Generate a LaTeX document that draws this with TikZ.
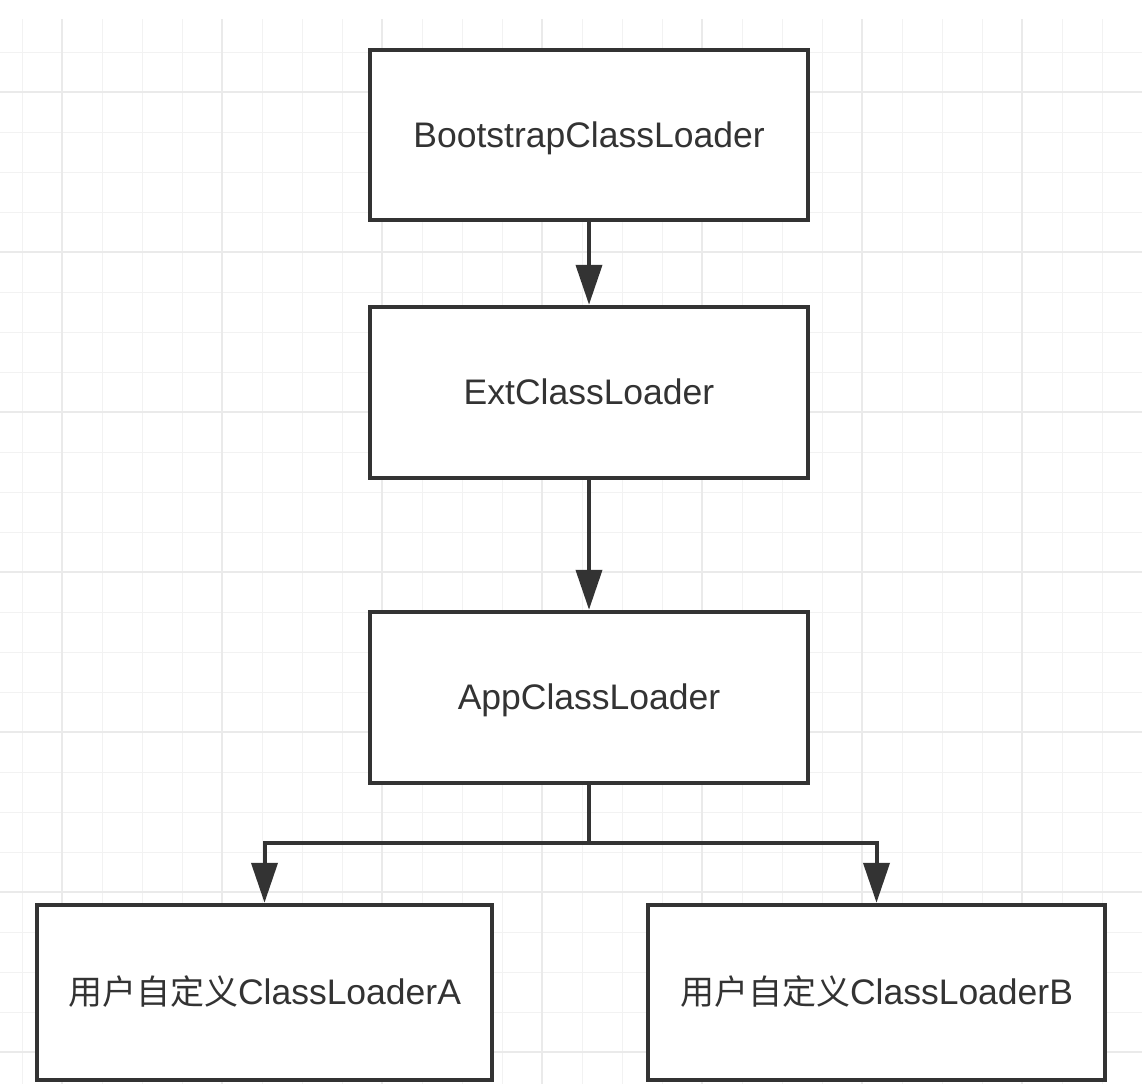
\documentclass[tikz,border=0pt]{standalone}
\usepackage{fontspec}
\setmainfont{Liberation Sans}
\newfontfamily\cjk{Noto Sans CJK SC}
\usetikzlibrary{arrows.meta}
\definecolor{ink}{HTML}{333333}
\definecolor{gridminor}{HTML}{F2F2F2}
\definecolor{gridmajor}{HTML}{EAEAEA}
\begin{document}
\begin{tikzpicture}[x=1pt,y=-1pt,
  box/.style={draw=ink, line width=4.5pt, fill=white, rectangle, inner sep=0pt,
    text=ink, font=\fontsize{35.5}{40}\selectfont, text height=24pt, text depth=0pt},
  link/.style={draw=ink, line width=4pt, line join=miter,
    -{Triangle[length=40pt,width=26pt]}},
  minorline/.style={draw=gridminor, line width=1pt},
  majorline/.style={draw=gridmajor, line width=1.2pt}]
\useasboundingbox (0,0) rectangle (1142,1084);
\fill[white] (0,0) rectangle (1142,1084);
\begin{scope}
  \clip (0,19) rectangle (1142,1084);
  \foreach \i in {0,...,28} { \draw[minorline] ({22+40*\i},19) -- ({22+40*\i},1084); }
  \foreach \j in {0,...,26} { \draw[minorline] (0,{52+40*\j}) -- (1142,{52+40*\j}); }
  \foreach \i in {0,...,6} { \draw[majorline] ({62+160*\i},19) -- ({62+160*\i},1084); }
  \foreach \j in {0,...,6} { \draw[majorline] (0,{92+160*\j}) -- (1142,{92+160*\j}); }
\end{scope}

\node[box, minimum width=438pt, minimum height=170pt] (boot) at (589,135) {BootstrapClassLoader};
\node[box, minimum width=438pt, minimum height=171pt] (ext) at (589,392.5) {ExtClassLoader};
\node[box, minimum width=438pt, minimum height=171pt] (app) at (589,697.5) {AppClassLoader};
\node[box, minimum width=455pt, minimum height=175pt] (ua) at (264.5,992.5) {{\cjk\fontsize{34}{40}\selectfont 用户自定义}ClassLoaderA};
\node[box, minimum width=457pt, minimum height=175pt] (ub) at (876.5,992.5) {{\cjk\fontsize{34}{40}\selectfont 用户自定义}ClassLoaderB};

\coordinate (split) at (589,843);
\draw[link] (boot) -- (ext);
\draw[link] (ext) -- (app);
\draw[link] (app) -- (split) -| (ua);
\draw[link] (split) -| (ub);
\end{tikzpicture}
\end{document}
